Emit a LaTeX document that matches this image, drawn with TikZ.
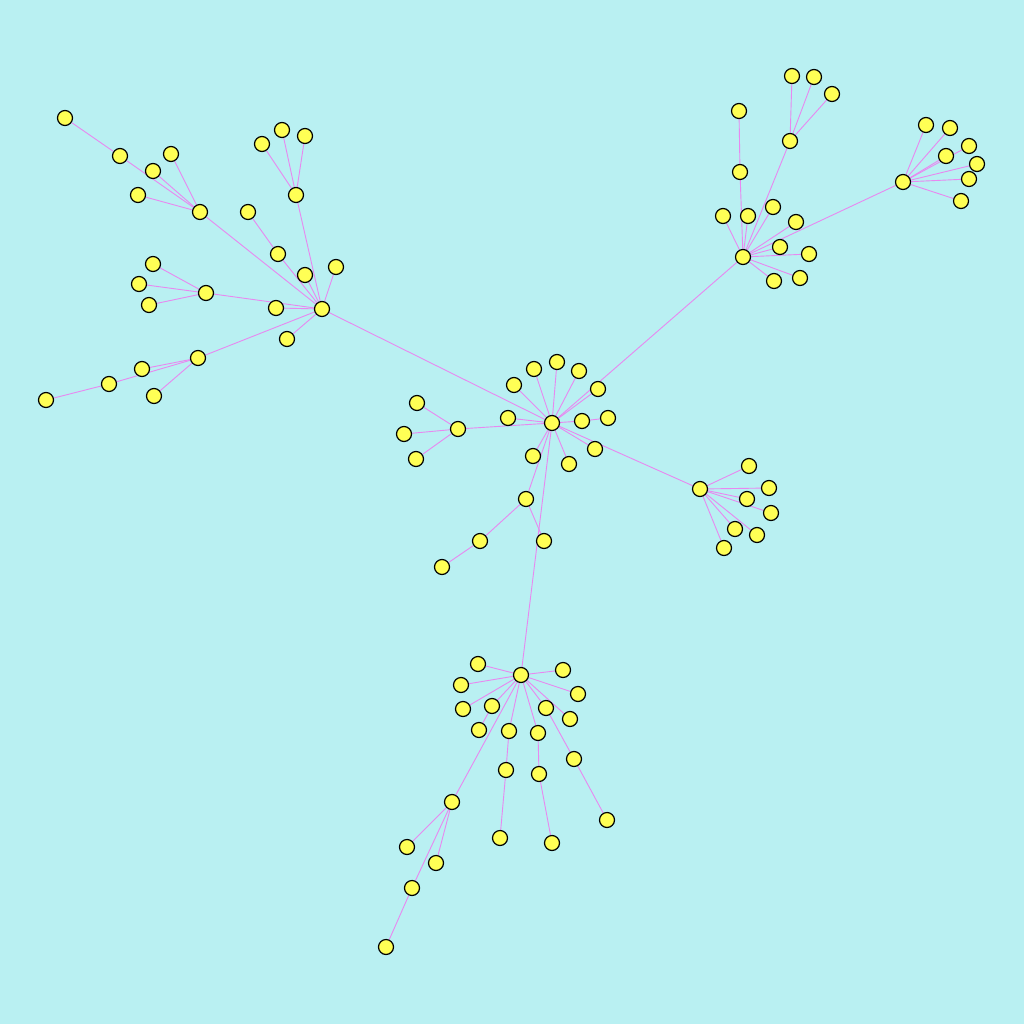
\documentclass[tikz,border=0pt]{standalone}
\usepackage{tikz}
\usetikzlibrary{backgrounds}
\definecolor{skyback}{RGB}{185,240,242}
\definecolor{vertexfill}{RGB}{255,255,85}
\definecolor{linkviolet}{RGB}{232,136,240}

% name/x/y/parent, in pixels of the 1024 frame
\def\treelist{%
c1/514/385/Core, c2/534/369/Core, c3/557/362/Core, c4/579/371/Core,
c5/598/389/Core, c6/508/418/Core, c7/582/421/Core, c8/608/418/c7,
c9/595/449/Core, c10/569/464/Core, c11/533/456/Core, c12/526/499/Core,
c13/544/541/c12, c14/480/541/c12, c15/442/567/c14,
West/458/429/Core, w1/417/403/West, w2/404/434/West, w3/416/459/West,
NorthEast/743/257/Core, ne1/723/216/NorthEast, ne2/748/216/NorthEast,
ne3/740/172/NorthEast, ne4/739/111/ne3, ne5/790/141/NorthEast,
ne6/792/76/ne5, ne7/814/77/ne5, ne8/832/94/ne5,
ne9/773/207/NorthEast, ne10/796/222/NorthEast, ne11/780/247/NorthEast,
ne12/809/254/NorthEast, ne13/800/278/NorthEast, ne14/774/281/NorthEast,
FarEast/903/182/NorthEast, fe1/926/125/FarEast, fe2/950/128/FarEast,
fe3/969/146/FarEast, fe4/946/156/FarEast, fe5/977/164/FarEast,
fe6/969/179/FarEast, fe7/961/201/FarEast,
NorthWest/322/309/Core, nwA/200/212/NorthWest, a1/153/171/nwA,
a2/171/154/nwA, a3/138/195/nwA, a4/120/156/nwA, a5/65/118/a4,
nw1/278/254/NorthWest, nw2/248/212/nw1,
nwB/296/195/NorthWest, b1/262/144/nwB, b2/282/130/nwB, b3/305/136/nwB,
nw3/305/275/NorthWest, nw4/336/267/NorthWest, nw5/276/308/NorthWest,
nw6/287/339/NorthWest,
nwD/206/293/NorthWest, d1/153/264/nwD, d2/139/284/nwD, d3/149/305/nwD,
nwE/198/358/NorthWest, e1/142/369/nwE, e2/154/396/nwE, e3/109/384/nwE,
e4/46/400/e3,
East/700/489/Core, ea1/749/466/East, ea2/769/488/East, ea3/747/499/East,
ea4/771/513/East, ea5/757/535/East, ea6/735/529/East, ea7/724/548/East,
South/521/675/Core, s1/478/664/South, s2/563/670/South, s3/461/685/South,
s4/578/694/South, s5/463/709/South, s6/492/706/South, s7/479/730/s6,
s8/546/708/South, s9/574/759/s8, s10/607/820/s9, s11/570/719/South,
s12/509/731/South, s13/506/770/s12, s14/500/838/s13,
s15/538/733/South, s16/539/774/s15, s17/552/843/s16,
s18/452/802/South, s19/407/847/s18, s20/436/863/s18, s21/412/888/s18,
s22/386/947/s21}

\begin{document}
\begin{tikzpicture}
    [x=0.1mm,y=-0.1mm,
     vertex/.style={circle,inner sep=0pt,minimum size=1.5mm,fill=vertexfill,draw=black,line width=0.12mm},
     link/.style={draw=linkviolet,line width=0.09mm}]
    \useasboundingbox (0,0) rectangle (1024,1024);
    \node [vertex] (Core) at (552,423) {};
    \foreach \nm/\px/\py/\up in \treelist
        \node [vertex] (\nm) at (\px,\py) {};
    \begin{scope}[on background layer]
        \fill[skyback] (0,0) rectangle (1024,1024);
        \foreach \nm/\px/\py/\up in \treelist
            \draw[link] (\up) -- (\nm);
    \end{scope}
\end{tikzpicture}
\end{document}
